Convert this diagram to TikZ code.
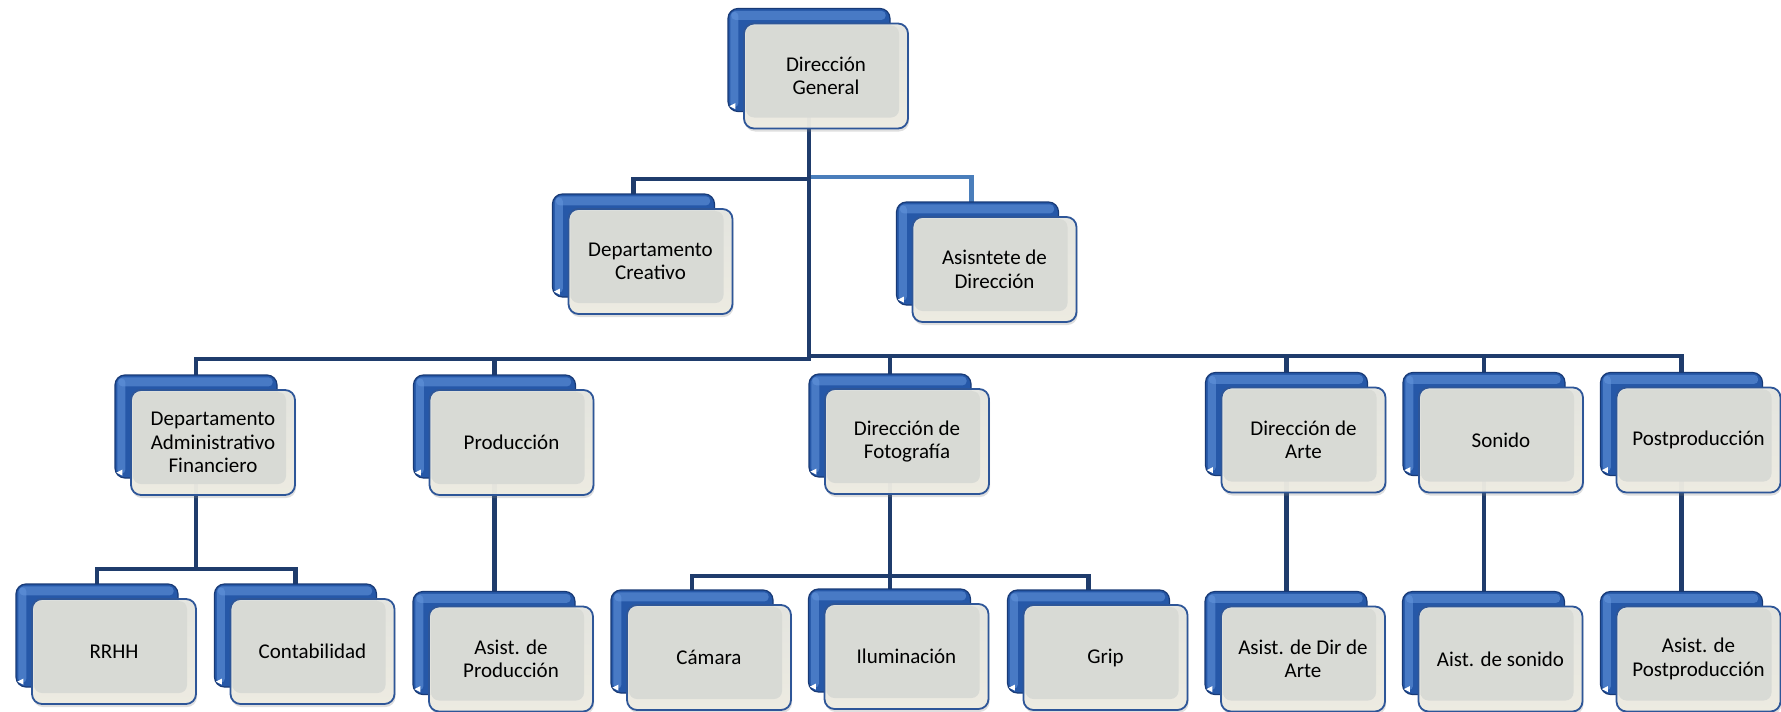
\documentclass[tikz,border=0pt]{standalone}
\usepackage{fontspec}
\setmainfont{Carlito}
\usetikzlibrary{shadows,backgrounds}
\definecolor{lineDark}{RGB}{31,60,108}
\definecolor{lineLight}{RGB}{74,126,187}
\definecolor{backFill}{RGB}{38,88,168}
\definecolor{backEdge}{RGB}{24,58,118}
\definecolor{backHi}{RGB}{100,150,222}
\definecolor{frontTop}{RGB}{228,229,224}
\definecolor{frontBot}{RGB}{238,236,226}
\definecolor{frontInner}{RGB}{216,218,213}
\definecolor{frontEdge}{RGB}{46,86,152}
\tikzset{
  conn/.style={draw=lineDark, line width=4.8pt, line cap=rect},
  connlight/.style={draw=lineLight, line width=4.5pt, line cap=rect},
  backbox/.style={rectangle, rounded corners=10pt, minimum width=162pt, minimum height=103pt,
    fill=backFill, draw=backEdge, line width=1.2pt, inner sep=0pt},
  hilite/.style={fill=backHi, rounded corners=4pt, opacity=0.55},
  frontbox/.style={rectangle, rounded corners=10pt, minimum width=164pt, minimum height=105pt,
    top color=frontTop, bottom color=frontBot, draw=frontEdge, line width=1.8pt,
    fill opacity=0.96, text opacity=1, align=center, inner sep=0pt,
    font=\fontsize{21}{23.5}\selectfont,
    path picture={\fill[frontInner, rounded corners=8pt]
      ([shift={(2pt,-2pt)}]path picture bounding box.north west) rectangle
      ([shift={(-9pt,11pt)}]path picture bounding box.south east);},
    drop shadow={shadow xshift=1pt, shadow yshift=-3pt, opacity=0.25}},
}
\newcommand\orgbox[4]{%
  \node[backbox] (#1-b) at ({#2-17},{#3-16}) {};
  \fill[hilite] ([shift={(4pt,-3pt)}]#1-b.north west) rectangle ([shift={(-5pt,-12pt)}]#1-b.north east);
  \fill[hilite] ([shift={(3pt,-4pt)}]#1-b.north west) rectangle ([shift={(11pt,5pt)}]#1-b.south west);
  \fill[white] ([shift={(2pt,6pt)}]#1-b.south west) -- ++(6pt,3pt) -- ++(0,-6pt) -- cycle;
  \node[frontbox] (#1) at (#2,#3) {#4};
}
\begin{document}
\begin{tikzpicture}[x=1pt,y=-1pt]
\useasboundingbox (0,0) rectangle (1781,712);
% level 0 and 1
\orgbox{dg}{826}{76}{Dirección\\General}
\orgbox{dc}{650.5}{261.5}{Departamento\\Creativo}
\orgbox{ad}{994.5}{269.5}{Asisntete de\\Dirección}
% level 2
\orgbox{daf}{213}{442.5}{Departamento\\Administrativo\\Financiero}
\orgbox{prod}{511.5}{442.5}{Producción}
\orgbox{foto}{907}{441.5}{Dirección de\\Fotografía}
\orgbox{arte}{1303.5}{440}{Dirección de\\Arte}
\orgbox{son}{1501}{440}{Sonido}
\orgbox{post}{1698.5}{440}{Postproducción}
% level 3
\orgbox{rrhh}{114}{651.5}{RRHH}
\orgbox{cont}{312.5}{651.5}{Contabilidad}
\orgbox{aprod}{511}{659}{Asist. de\\Producción}
\orgbox{cam}{709}{657.5}{Cámara}
\orgbox{ilum}{906.5}{656.5}{Iluminación}
\orgbox{grip}{1105.5}{657.5}{Grip}
\orgbox{aarte}{1303}{659}{Asist. de Dir de\\Arte}
\orgbox{ason}{1500.5}{659}{Aist. de sonido}
\orgbox{apost}{1698.5}{659}{Asist. de\\Postproducción}
\begin{pgfonlayer}{background}
  \coordinate (y177) at (0,177);
  \coordinate (y179) at (0,179);
  \coordinate (y356) at (0,356);
  \coordinate (y359) at (0,359);
  \coordinate (y569) at (0,569);
  \coordinate (y576) at (0,576);
  % top
  \draw[connlight] (dg-b.center |- y177) -| ([xshift=-6pt]ad-b.north);
  \draw[conn] (dg-b.center |- y179) -| (dc-b.north);
  \draw[conn] (dg-b.center) -- (dg-b.center |- y359);
  % main bus
  \draw[conn] (dg-b.center |- y359) -| (daf-b.north);
  \draw[conn] (dg-b.center |- y359) -| (prod-b.north);
  \draw[conn] (dg-b.center |- y356) -| (foto-b.north);
  \draw[conn] (dg-b.center |- y356) -| (arte-b.north);
  \draw[conn] (dg-b.center |- y356) -| (son-b.north);
  \draw[conn] (dg-b.center |- y356) -| (post-b.north);
  % level 3
  \draw[conn] (daf-b.center) -- (daf-b.center |- y569);
  \draw[conn] (daf-b.center |- y569) -| (rrhh-b.north);
  \draw[conn] (daf-b.center |- y569) -| (cont-b.north);
  \draw[conn] (prod-b.center) -- (prod-b.center |- aprod-b.north);
  \draw[conn] (foto-b.center) -- (foto-b.center |- y576);
  \draw[conn] (foto-b.center |- y576) -| (cam-b.north);
  \draw[conn] (foto-b.center |- y576) -- (foto-b.center |- ilum-b.north);
  \draw[conn] (foto-b.center |- y576) -| (grip-b.north);
  \draw[conn] (arte-b.center) -- (arte-b.center |- aarte-b.north);
  \draw[conn] (son-b.center) -- (son-b.center |- ason-b.north);
  \draw[conn] (post-b.center) -- (post-b.center |- apost-b.north);
\end{pgfonlayer}
\end{tikzpicture}
\end{document}
